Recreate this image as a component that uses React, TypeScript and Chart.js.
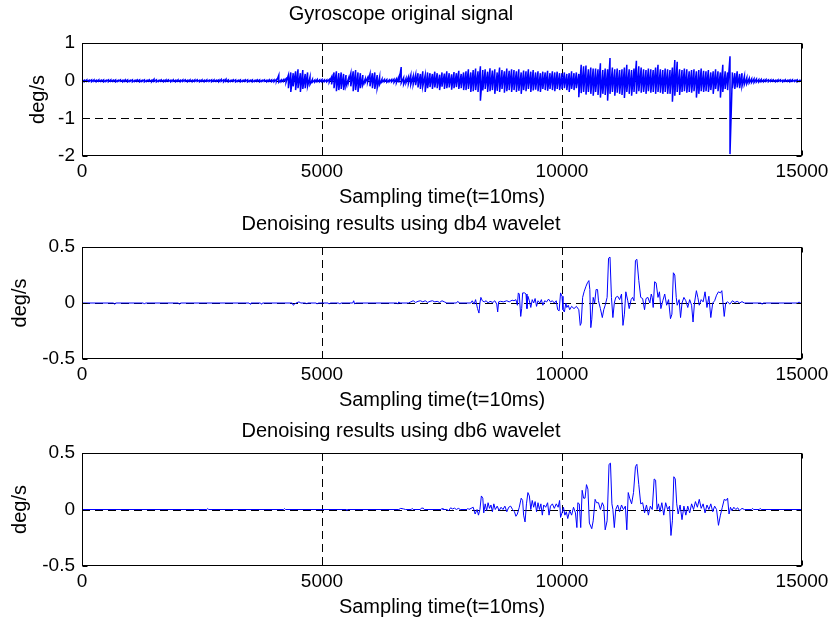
import React, { useEffect, useRef } from "react";
import { Chart, registerables } from "chart.js";

Chart.register(...registerables);

const FONT = '"Liberation Sans", Arial, Helvetica, sans-serif';

// ---------- text & ticks ----------
const panelTitles = [
  "Gyroscope original signal",
  "Denoising results using db4 wavelet",
  "Denoising results using db6 wavelet",
];
const xAxisLabel = "Sampling time(t=10ms)";
const yAxisLabel = "deg/s";
const xTickValues = [0, 5000, 10000, 15000];
const xTickLabels = ["0", "5000", "10000", "15000"];
const gyroTickValues = [-2, -1, 0, 1];
const gyroTickLabels = ["-2", "-1", "0", "1"];
const denoiseTickValues = [-0.5, 0, 0.5];
const denoiseTickLabels = ["-0.5", "0", "0.5"];

// ---------- original gyroscope signal: local max / min every 50 samples ----------
const gyroStep = 50;
const gyroHi = [
  0.02, 0.01, 0.02, 0.01, 0.02, 0.02, 0.01, 0.02, 0.01, 0.02, 0.01, 0.02, 0.02, 0.01, 0.02, 0.01, 0.02, 0.01, 0.02, 0.02,
  0.01, 0.02, 0.01, 0.02, 0.02, 0.01, 0.02, 0.01, 0.02, 0.01, 0.04, 0.02, 0.01, 0.02, 0.01, 0.02, 0.02, 0.01, 0.02, 0.01,
  0.02, 0.01, 0.02, 0.02, 0.01, 0.02, 0.01, 0.02, 0.02, 0.01, 0.02, 0.01, 0.02, 0.01, 0.02, 0.02, 0.01, 0.02, 0.03, 0.02,
  0.04, 0.02, 0.01, 0.02, 0.02, 0.01, 0.02, 0.01, 0.02, 0.02, 0.01, 0.02, 0.01, 0.02, 0.02, 0.01, 0.02, 0.01, 0.02, 0.02,
  0.02, 0.03, 0.15, 0.02, 0.03, 0.05, 0.15, 0.22, 0.2, 0.25, 0.3, 0.2, 0.28, 0.18, 0.22, 0.1, 0.03, 0.02, 0.03, 0.02,
  0.03, 0.02, 0.02, 0.03, 0.1, 0.22, 0.25, 0.2, 0.22, 0.18, 0.15, 0.05, 0.2, 0.25, 0.28, 0.22, 0.2, 0.15, 0.05, 0.08,
  0.18, 0.2, 0.22, 0.15, 0.1, 0.04, 0.03, 0.03, 0.02, 0.03, 0.04, 0.05, 0.1, 0.36, 0.08, 0.06, 0.1, 0.15, 0.12, 0.16,
  0.2, 0.18, 0.25, 0.15, 0.22, 0.2, 0.18, 0.24, 0.2, 0.16, 0.22, 0.19, 0.25, 0.2, 0.17, 0.23, 0.2, 0.26, 0.18, 0.22,
  0.25, 0.3, 0.22, 0.28, 0.32, 0.25, 0.38, 0.28, 0.3, 0.24, 0.33, 0.27, 0.3, 0.22, 0.35, 0.28, 0.25, 0.32, 0.26, 0.3,
  0.28, 0.25, 0.3, 0.22, 0.27, 0.25, 0.3, 0.24, 0.28, 0.22, 0.25, 0.2, 0.24, 0.22, 0.26, 0.2, 0.25, 0.22, 0.24, 0.2,
  0.2, 0.22, 0.18, 0.2, 0.25, 0.2, 0.22, 0.18, 0.42, 0.38, 0.4, 0.3, 0.35, 0.32, 0.32, 0.3, 0.46, 0.28, 0.32, 0.3,
  0.6, 0.35, 0.3, 0.32, 0.28, 0.3, 0.35, 0.42, 0.3, 0.28, 0.32, 0.53, 0.38, 0.35, 0.3, 0.28, 0.32, 0.3, 0.28, 0.35,
  0.42, 0.3, 0.28, 0.32, 0.3, 0.28, 0.35, 0.55, 0.5, 0.3, 0.28, 0.32, 0.3, 0.25, 0.28, 0.3, 0.25, 0.28, 0.32, 0.26,
  0.25, 0.28, 0.22, 0.25, 0.3, 0.25, 0.22, 0.42, 0.25, 0.22, 0.65, 0.22, 0.2, 0.25, 0.18, 0.2, 0.12, 0.08, 0.06, 0.05,
  0.05, 0.04, 0.03, 0.03, 0.02, 0.03, 0.02, 0.02, 0.02, 0.01, 0.02, 0.02, 0.01, 0.02, 0.01, 0.02, 0.02, 0.01, 0.02, 0.01,
  0.01,
];
const gyroLo = [
  -0.02, -0.03, -0.02, -0.02, -0.03, -0.02, -0.03, -0.02, -0.02, -0.03, -0.02, -0.03, -0.02, -0.02, -0.03, -0.02, -0.02, -0.03, -0.02, -0.03,
  -0.02, -0.03, -0.02, -0.02, -0.03, -0.02, -0.03, -0.02, -0.02, -0.03, -0.02, -0.03, -0.02, -0.02, -0.03, -0.02, -0.02, -0.03, -0.02, -0.03,
  -0.02, -0.03, -0.02, -0.02, -0.03, -0.02, -0.03, -0.02, -0.02, -0.03, -0.02, -0.03, -0.02, -0.02, -0.03, -0.02, -0.02, -0.03, -0.02, -0.03,
  -0.02, -0.03, -0.02, -0.02, -0.03, -0.02, -0.03, -0.02, -0.02, -0.03, -0.02, -0.03, -0.02, -0.02, -0.03, -0.02, -0.02, -0.03, -0.02, -0.03,
  -0.03, -0.02, -0.04, -0.03, -0.02, -0.05, -0.2, -0.3, -0.15, -0.25, -0.2, -0.3, -0.22, -0.2, -0.15, -0.1, -0.04, -0.04, -0.03, -0.03,
  -0.03, -0.03, -0.03, -0.04, -0.1, -0.2, -0.28, -0.25, -0.22, -0.25, -0.15, -0.05, -0.15, -0.28, -0.25, -0.3, -0.2, -0.12, -0.05, -0.04,
  -0.15, -0.2, -0.22, -0.2, -0.1, -0.04, -0.03, -0.04, -0.03, -0.03, -0.05, -0.06, -0.05, -0.06, -0.1, -0.06, -0.08, -0.1, -0.1, -0.12,
  -0.18, -0.22, -0.15, -0.3, -0.2, -0.17, -0.22, -0.18, -0.2, -0.25, -0.16, -0.22, -0.2, -0.18, -0.24, -0.2, -0.17, -0.22, -0.2, -0.25,
  -0.25, -0.22, -0.3, -0.28, -0.25, -0.3, -0.53, -0.26, -0.22, -0.3, -0.28, -0.25, -0.35, -0.27, -0.3, -0.22, -0.32, -0.28, -0.25, -0.3,
  -0.25, -0.3, -0.27, -0.35, -0.25, -0.28, -0.22, -0.3, -0.26, -0.24, -0.28, -0.3, -0.22, -0.25, -0.27, -0.22, -0.25, -0.28, -0.22, -0.25,
  -0.22, -0.2, -0.25, -0.3, -0.22, -0.25, -0.2, -0.44, -0.33, -0.3, -0.37, -0.3, -0.35, -0.4, -0.3, -0.38, -0.45, -0.35, -0.38, -0.53,
  -0.35, -0.3, -0.4, -0.32, -0.35, -0.38, -0.46, -0.3, -0.35, -0.4, -0.3, -0.35, -0.28, -0.32, -0.3, -0.35, -0.28, -0.32, -0.3, -0.35,
  -0.3, -0.32, -0.35, -0.3, -0.35, -0.35, -0.56, -0.4, -0.3, -0.38, -0.3, -0.28, -0.32, -0.3, -0.32, -0.28, -0.45, -0.35, -0.28, -0.3,
  -0.28, -0.3, -0.25, -0.35, -0.22, -0.28, -0.45, -0.3, -0.22, -0.25, -1.95, -0.2, -0.22, -0.18, -0.2, -0.15, -0.1, -0.08, -0.06, -0.05,
  -0.05, -0.04, -0.04, -0.03, -0.03, -0.02, -0.03, -0.02, -0.02, -0.03, -0.02, -0.02, -0.03, -0.02, -0.02, -0.03, -0.02, -0.02, -0.03, -0.02,
  -0.02,
];

// ---------- denoised signals: [sample, deg/s] ----------
const db4Samples: [number, number][] = [
  [0, 0], [660, 0], [680, -0.012], [700, 0], [1280, 0], [1300, -0.01], [1320, 0], [2010, 0], [2030, -0.012], [2050, 0],
  [3480, 0], [3500, -0.01], [3520, 0], [3720, 0], [3740, -0.012], [3760, 0], [4380, 0], [4400, -0.02], [4430, -0.01],
  [4460, 0], [4520, 0.01], [4560, 0], [4660, 0], [4680, -0.01], [4700, 0], [4880, 0], [4900, -0.01], [4920, 0],
  [5130, 0], [5150, -0.01], [5170, 0], [5350, 0], [5370, -0.01], [5390, 0], [5640, 0], [5660, 0.02], [5680, -0.01],
  [5700, 0], [6560, 0], [6580, -0.01], [6600, 0.01], [6620, 0], [6800, 0], [6850, 0.01], [6900, 0.02], [6950, 0.005],
  [7000, 0.015], [7050, 0.02], [7100, 0.01], [7150, 0.02], [7200, 0.005], [7250, 0.015], [7300, 0.02], [7350, 0.01],
  [7400, 0.015], [7450, 0.005], [7500, 0.02], [7550, 0.01], [7600, 0], [7800, 0], [7830, 0.015], [7860, 0],
  [8100, 0], [8130, 0.02], [8170, -0.01], [8200, 0.03], [8240, -0.05], [8270, -0.09], [8290, 0.0], [8310, 0.05],
  [8340, 0.02], [8380, 0.01], [8420, 0.02], [8460, 0.0], [8500, 0.015], [8560, 0.005], [8600, 0.02], [8640, -0.01],
  [8660, -0.08], [8680, 0.01], [8720, 0.015], [8780, 0.01], [8850, 0.02], [8900, 0.01], [8960, 0.025], [9000, 0.02],
  [9040, 0.03], [9070, -0.02], [9090, 0.09], [9110, 0.08], [9140, -0.12], [9160, -0.05], [9180, 0.09], [9220, 0.09],
  [9250, 0.08], [9270, -0.05], [9290, 0.06], [9320, 0.02], [9350, -0.04], [9380, 0.03], [9410, 0.0], [9440, 0.04],
  [9470, -0.03], [9500, 0.02], [9540, 0.0], [9570, 0.03], [9600, -0.02], [9640, 0.02], [9680, 0.01], [9720, 0.035],
  [9760, 0.01], [9800, 0.02], [9840, 0.0], [9880, 0.02], [9910, -0.06], [9940, -0.07], [9970, 0.09], [10000, 0.06],
  [10020, -0.06], [10050, -0.08], [10080, 0.0], [10100, -0.04], [10130, -0.02], [10160, -0.06], [10200, -0.03],
  [10250, -0.05], [10300, -0.03], [10350, -0.06], [10380, -0.2], [10400, -0.18], [10430, 0.05], [10460, 0.1],
  [10500, 0.15], [10530, 0.18], [10560, 0.2], [10580, 0.12], [10600, -0.22], [10620, -0.15], [10650, 0.05],
  [10680, 0.0], [10710, 0.12], [10740, 0.12], [10760, 0.02], [10800, -0.05], [10840, -0.13], [10870, -0.06],
  [10900, -0.02], [10940, 0.05], [10970, 0.4], [11000, 0.41], [11030, 0.05], [11060, -0.13], [11090, 0.0],
  [11120, 0.05], [11160, 0.06], [11200, 0.03], [11240, 0.08], [11270, -0.2], [11300, -0.1], [11330, 0.1],
  [11370, 0.02], [11400, -0.05], [11440, 0.03], [11470, 0.05], [11500, 0.02], [11530, 0.38], [11560, 0.39],
  [11600, 0.2], [11640, 0.05], [11680, 0.04], [11720, -0.06], [11750, 0.04], [11790, 0.05], [11830, 0.0],
  [11860, 0.08], [11880, 0.05], [11900, -0.04], [11930, 0.19], [11960, 0.18], [12000, 0.05], [12030, 0.1],
  [12060, -0.05], [12100, 0.02], [12140, 0.08], [12180, -0.02], [12220, 0.03], [12260, -0.14], [12290, -0.1],
  [12320, 0.27], [12350, 0.25], [12380, 0.05], [12400, -0.02], [12440, 0.03], [12470, -0.13], [12500, 0.0],
  [12540, 0.05], [12580, 0.02], [12620, -0.04], [12660, 0.03], [12700, -0.02], [12730, -0.17], [12760, 0.0],
  [12800, 0.11], [12830, 0.05], [12860, -0.02], [12900, 0.03], [12940, 0.01], [12980, 0.1], [13020, -0.04],
  [13060, 0.06], [13100, -0.13], [13140, 0.0], [13180, 0.02], [13220, 0.07], [13260, 0.1], [13300, 0.09],
  [13330, 0.11], [13380, -0.12], [13410, 0.0], [13450, 0.01], [13500, -0.01], [13550, 0.02], [13600, 0.005],
  [13650, 0.015], [13700, 0.0], [13750, 0.012], [13800, 0], [14150, 0], [14170, -0.012], [14190, 0],
  [14920, 0], [14940, 0.01], [14960, 0], [15000, 0],
];

const db6Samples: [number, number][] = [
  [0, 0], [2600, 0], [2620, 0.008], [2640, 0], [4200, 0], [4220, 0.008], [4240, 0], [5500, 0], [5520, -0.008],
  [5540, 0], [6600, 0], [6640, 0.01], [6700, 0.005], [6740, 0], [6860, 0], [6880, 0.01], [6900, 0], [7050, 0],
  [7070, 0.012], [7110, 0.012], [7130, 0], [7480, 0], [7500, 0.01], [7520, 0], [7600, 0], [7640, -0.01],
  [7680, 0.015], [7720, 0.005], [7760, 0.012], [7800, 0.0], [7840, 0.01], [7880, 0], [8020, 0], [8040, 0.01],
  [8060, 0], [8150, 0.02], [8190, -0.04], [8230, 0.0], [8260, -0.05], [8290, 0.0], [8320, 0.12], [8350, 0.1],
  [8370, -0.03], [8400, 0.05], [8430, -0.01], [8460, 0.06], [8490, 0.01], [8520, 0.04], [8550, -0.02], [8580, 0.05],
  [8610, 0.0], [8650, 0.03], [8690, -0.01], [8730, 0.02], [8770, 0.0], [8810, 0.03], [8850, -0.02], [8890, 0.02],
  [8930, 0.03], [8970, 0.0], [9010, -0.02], [9040, -0.06], [9070, -0.04], [9110, 0.02], [9150, 0.1], [9180, 0.08],
  [9200, -0.05], [9230, -0.11], [9260, 0.05], [9290, 0.15], [9320, 0.12], [9350, 0.0], [9380, 0.08], [9410, 0.02],
  [9440, 0.07], [9470, -0.02], [9500, 0.06], [9530, 0.0], [9560, 0.05], [9590, -0.05], [9620, 0.04], [9660, 0.02],
  [9700, 0.06], [9730, -0.05], [9760, 0.03], [9800, 0.05], [9840, 0.01], [9880, 0.05], [9920, 0.02], [9950, 0.08],
  [9970, -0.07], [10000, -0.03], [10030, 0.02], [10060, -0.05], [10090, -0.02], [10120, -0.08], [10160, -0.01],
  [10200, -0.05], [10240, 0.02], [10280, -0.03], [10310, -0.16], [10330, 0.06], [10360, 0.05], [10390, -0.16],
  [10420, 0.17], [10450, 0.1], [10480, 0.1], [10510, 0.22], [10540, 0.18], [10570, -0.12], [10620, -0.17],
  [10650, -0.1], [10690, 0.09], [10720, 0.06], [10760, 0.06], [10800, 0.0], [10840, 0.06], [10870, 0.03],
  [10900, -0.18], [10940, -0.1], [10980, 0.4], [11010, 0.41], [11040, 0.05], [11060, 0.0], [11090, -0.16],
  [11120, 0.0], [11160, 0.04], [11200, -0.02], [11240, 0.04], [11280, 0.0], [11320, 0.03], [11350, -0.18],
  [11380, 0.15], [11410, 0.1], [11450, 0.05], [11490, 0.15], [11530, 0.38], [11560, 0.4], [11600, 0.22],
  [11640, 0.05], [11680, 0.06], [11720, -0.03], [11760, 0.04], [11800, -0.05], [11840, 0.03], [11880, 0.0],
  [11920, 0.27], [11950, 0.26], [11980, 0.0], [12010, 0.05], [12040, -0.02], [12080, 0.06], [12120, -0.05],
  [12160, 0.06], [12200, 0.0], [12240, 0.03], [12270, -0.23], [12300, -0.1], [12330, 0.29], [12360, 0.27],
  [12390, 0.05], [12420, -0.04], [12460, 0.04], [12500, -0.09], [12540, 0.03], [12580, -0.05], [12620, 0.03],
  [12660, -0.03], [12700, 0.05], [12740, 0.0], [12780, 0.07], [12820, 0.02], [12860, 0.09], [12900, 0.01],
  [12940, 0.05], [12980, -0.03], [13020, 0.04], [13060, 0.0], [13100, 0.05], [13140, -0.02], [13180, 0.03],
  [13220, 0.0], [13260, -0.14], [13300, -0.05], [13340, 0.02], [13380, 0.09], [13420, 0.08], [13450, 0.1],
  [13480, -0.04], [13510, 0.02], [13540, -0.01], [13580, 0.02], [13620, 0.0], [13660, 0.015], [13700, -0.01],
  [13750, 0.01], [13800, 0.0], [13950, 0.0], [13970, 0.01], [13990, 0], [14110, 0], [14130, 0.01], [14150, 0],
  [15000, 0],
];

// ---------- layout of the three panels (screen pixels) ----------
const W = 835;
const PLOT_LEFT = 82;
const PLOT_RIGHT = 802;
const panelLayout = [
  { boxTop: 43, boxBottom: 156, titleCenter: 14, yLabelCenter: 38, lineWidth: 1.5 },
  { boxTop: 247, boxBottom: 359, titleCenter: 224, yLabelCenter: 20, lineWidth: 1 },
  { boxTop: 453, boxBottom: 566, titleCenter: 431, yLabelCenter: 20, lineWidth: 1 },
];

type Pt = { x: number; y: number };

function gyroPoints(): Pt[] {
  const pts: Pt[] = [];
  for (let i = 0; i < gyroHi.length; i++) {
    const x = i * gyroStep;
    pts.push({ x, y: gyroHi[i] });
    pts.push({ x, y: gyroLo[i] });
  }
  return pts;
}

function pairPoints(s: [number, number][]): Pt[] {
  return s.map(([x, y]) => ({ x, y }));
}

const frame = {
  id: "matlabFrame",
  beforeDatasetsDraw(chart: any) {
    const { ctx, chartArea: a, scales } = chart;
    ctx.save();
    ctx.strokeStyle = "#000";
    ctx.lineWidth = 1;
    ctx.setLineDash([8, 5]);
    for (const v of xTickValues) {
      const px = Math.round(scales.x.getPixelForValue(v)) + 0.5;
      if (px <= a.left + 1 || px >= a.right - 1) continue;
      ctx.beginPath();
      ctx.moveTo(px, a.top);
      ctx.lineTo(px, a.bottom);
      ctx.stroke();
    }
    for (const v of chart.options.plugins.matlabFrame.yTicks) {
      const py = Math.round(scales.y.getPixelForValue(v)) + 0.5;
      if (py <= a.top + 1 || py >= a.bottom - 1) continue;
      ctx.beginPath();
      ctx.moveTo(a.left, py);
      ctx.lineTo(a.right, py);
      ctx.stroke();
    }
    ctx.restore();
  },
  afterDatasetsDraw(chart: any) {
    const { ctx, chartArea: a, scales } = chart;
    const L = Math.round(a.left) + 0.5;
    const R = Math.round(a.right) - 0.5;
    const T = Math.round(a.top) + 0.5;
    const B = Math.round(a.bottom) - 0.5;
    const tl = 5;
    ctx.save();
    ctx.strokeStyle = "#000";
    ctx.lineWidth = 1;
    ctx.setLineDash([]);
    ctx.strokeRect(L, T, R - L, B - T);
    ctx.beginPath();
    for (const v of xTickValues) {
      const px = Math.round(scales.x.getPixelForValue(v)) + 0.5;
      ctx.moveTo(px, B);
      ctx.lineTo(px, B - tl);
      ctx.moveTo(px, T);
      ctx.lineTo(px, T + tl);
    }
    for (const v of chart.options.plugins.matlabFrame.yTicks) {
      const py = Math.round(scales.y.getPixelForValue(v)) + 0.5;
      ctx.moveTo(L, py);
      ctx.lineTo(L + tl, py);
      ctx.moveTo(R, py);
      ctx.lineTo(R - tl, py);
    }
    ctx.stroke();
    ctx.restore();
  },
};

function Panel(props: {
  index: number;
  points: Pt[];
  yMin: number;
  yMax: number;
  yTicks: number[];
  yLabels: string[];
}) {
  const ref = useRef<HTMLCanvasElement>(null);
  const lay = panelLayout[props.index];
  const canvasTop = lay.boxTop - 45;
  const canvasH = lay.boxBottom + 58 - canvasTop;
  const areaTop = lay.boxTop - canvasTop;
  const xAxisH = canvasH - (lay.boxBottom - canvasTop);
  const titlePadTop = lay.titleCenter - canvasTop - 12;
  const titlePadBottom = areaTop - titlePadTop - 24;

  useEffect(() => {
    if (!ref.current) return;
    const chart = new Chart(ref.current, {
      type: "line",
      data: {
        datasets: [
          {
            data: props.points,
            borderColor: "#0000ff",
            borderWidth: lay.lineWidth,
            pointRadius: 0,
            tension: 0,
            fill: false,
            spanGaps: true,
          },
        ],
      },
      plugins: [frame],
      options: {
        animation: false,
        responsive: false,
        devicePixelRatio: 1,
        parsing: false,
        normalized: true,
        events: [],
        layout: { padding: { left: 0, right: W - PLOT_RIGHT, top: 0, bottom: 0 } },
        plugins: {
          legend: { display: false },
          tooltip: { enabled: false },
          title: {
            display: true,
            text: panelTitles[props.index],
            color: "#000",
            font: { family: FONT, size: 20, weight: "normal", lineHeight: 1.2 },
            padding: { top: titlePadTop, bottom: titlePadBottom },
          },
          matlabFrame: { yTicks: props.yTicks },
        } as any,
        scales: {
          x: {
            type: "linear",
            min: 0,
            max: 15000,
            afterBuildTicks: (s: any) => {
              s.ticks = xTickValues.map((v) => ({ value: v }));
            },
            afterFit: (s: any) => {
              s.height = xAxisH;
            },
            grid: { display: false, drawTicks: false },
            border: { display: false },
            ticks: {
              color: "#000",
              padding: 4,
              maxRotation: 0,
              autoSkip: false,
              font: { family: FONT, size: 19 },
              callback: (v: any) => xTickLabels[xTickValues.indexOf(Number(v))] ?? "",
            },
            title: {
              display: true,
              text: xAxisLabel,
              color: "#000",
              font: { family: FONT, size: 20, lineHeight: 1.2 },
              padding: { top: 0, bottom: 5 },
            },
          },
          y: {
            type: "linear",
            min: props.yMin,
            max: props.yMax,
            afterBuildTicks: (s: any) => {
              s.ticks = props.yTicks.map((v) => ({ value: v }));
            },
            afterFit: (s: any) => {
              s.width = PLOT_LEFT;
            },
            grid: { display: false, drawTicks: false },
            border: { display: false },
            ticks: {
              color: "#000",
              padding: 7,
              autoSkip: false,
              font: { family: FONT, size: 19 },
              callback: (v: any) => props.yLabels[props.yTicks.indexOf(Number(v))] ?? "",
            },
            title: {
              display: true,
              text: yAxisLabel,
              color: "#000",
              font: { family: FONT, size: 20, lineHeight: 1.2 },
              padding: { top: lay.yLabelCenter - 12, bottom: 0 },
            },
          },
        },
      } as any,
    });
    return () => chart.destroy();
  }, []);

  return (
    <canvas
      ref={ref}
      width={W}
      height={canvasH}
      style={{ position: "absolute", left: 0, top: canvasTop, width: W, height: canvasH }}
    />
  );
}

export default function App() {
  return (
    <div
      style={{
        position: "absolute",
        left: 0,
        top: 0,
        width: W,
        height: 621,
        background: "#fff",
        overflow: "hidden",
      }}
    >
      <Panel index={0} points={gyroPoints()} yMin={-2} yMax={1} yTicks={gyroTickValues} yLabels={gyroTickLabels} />
      <Panel
        index={1}
        points={pairPoints(db4Samples)}
        yMin={-0.5}
        yMax={0.5}
        yTicks={denoiseTickValues}
        yLabels={denoiseTickLabels}
      />
      <Panel
        index={2}
        points={pairPoints(db6Samples)}
        yMin={-0.5}
        yMax={0.5}
        yTicks={denoiseTickValues}
        yLabels={denoiseTickLabels}
      />
    </div>
  );
}
